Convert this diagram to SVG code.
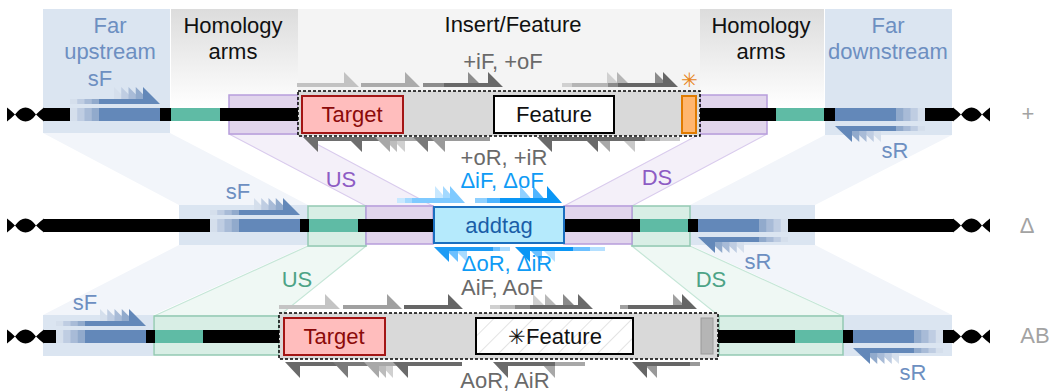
<svg xmlns="http://www.w3.org/2000/svg" width="1053" height="392" viewBox="0 0 1053 392">
<defs>
<style>
.t{font-family:"Liberation Sans",Arial,sans-serif;font-size:22px;text-anchor:middle}
.blue{fill:#6d8fc1}.gry{fill:#6a6a6a}.dl{fill:#0f9bf5}.pur{fill:#8d5cc4}.grn{fill:#4da386}.rowl{fill:#a3a3a3}
.fbox{fill:#dbe5f1}
.band-b{fill:#f2f5fa}
.band-p{fill:#f4f0f9;stroke:#d9cbed;stroke-width:1.2}
.band-g{fill:#eff8f4;stroke:#c5e6d7;stroke-width:1.2}
.pbox{fill:#e1d5ec;stroke:#b79ddb;stroke-width:1.5}
.gbox{fill:#d8eee5;stroke:#93c9b2;stroke-width:1.5}
.line{fill:#000}
.teal{fill:#5fbba5}
.cons{fill:#d9d9d9;stroke:#000;stroke-width:1.5;stroke-dasharray:3 2}
.target{fill:#ffbdbd;stroke:#a31515;stroke-width:2}
.feat{fill:#fff;stroke:#000;stroke-width:2}
.b0{fill:#d5dfec}.b1{fill:#bfcde2}.b2{fill:#a8bbd7}.b3{fill:#91aacc}.b4{fill:#6388b9}
.star{font-family:"DejaVu Sans",sans-serif;font-weight:200}
</style>
<linearGradient id="hom" x1="0" y1="0" x2="0" y2="1">
<stop offset="0" stop-color="#dcdcdc"/><stop offset="1" stop-color="#ffffff"/>
</linearGradient>
<pattern id="hatch" width="14" height="14" patternUnits="userSpaceOnUse" patternTransform="rotate(45)">
<rect width="14" height="14" fill="#fff"/><line x1="0" y1="0" x2="0" y2="14" stroke="#e3e3e3" stroke-width="2"/>
</pattern>
<path id="ends" d="M7,-7 Q11,-4 15,0 Q20,-7 25.5,-7 Q31,-7 36,0 Q40,-4 44,-7 L44,7 Q40,4 36,0 Q31,7 25.5,7 Q20,7 15,0 Q11,4 7,7 Z" fill="#000"/>
<g id="sF">
<rect class="b0" x="-90" y="0" width="90" height="13"/>
<rect class="b1" x="-82.75" y="0" width="82.75" height="13"/>
<rect class="b2" x="-75.5" y="0" width="75.5" height="13"/>
<rect class="b3" x="-68.25" y="0" width="68.25" height="13"/>
<rect class="b4" x="-61" y="0" width="61" height="13"/>
<polygon class="b0" points="-90,-9 -46,-9 -46,-21 -29,-4 -90,-4"/>
<polygon class="b1" points="-82.75,-9 -38.75,-9 -38.75,-21 -21.75,-4 -82.75,-4"/>
<polygon class="b2" points="-75.5,-9 -31.5,-9 -31.5,-21 -14.5,-4 -75.5,-4"/>
<polygon class="b3" points="-68.25,-9 -24.25,-9 -24.25,-21 -7.25,-4 -68.25,-4"/>
<polygon class="b4" points="-61,-9 -17,-9 -17,-21 0,-4 -61,-4"/>
</g>
<g id="sR">
<rect class="b0" x="0" y="-13" width="90" height="13"/>
<rect class="b1" x="0" y="-13" width="82.75" height="13"/>
<rect class="b2" x="0" y="-13" width="75.5" height="13"/>
<rect class="b3" x="0" y="-13" width="68.25" height="13"/>
<rect class="b4" x="0" y="-13" width="61" height="13"/>
<polygon class="b0" points="29,5 90,5 90,10 46,10 46,21"/>
<polygon class="b1" points="21.75,5 82.75,5 82.75,10 38.75,10 38.75,21"/>
<polygon class="b2" points="14.5,5 75.5,5 75.5,10 31.5,10 31.5,21"/>
<polygon class="b3" points="7.25,5 68.25,5 68.25,10 24.25,10 24.25,21"/>
<polygon class="b4" points="0,5 61,5 61,10 17,10 17,21"/>
</g>
</defs>

<rect width="1053" height="392" fill="#fff"/>

<g id="column-panels">
<rect class="fbox" x="43" y="9" width="127" height="124"/>
<rect x="171" y="9" width="127" height="99" fill="url(#hom)"/>
<rect x="298" y="9" width="402" height="82" fill="#f4f4f4"/>
<rect x="700" y="9" width="124" height="99" fill="url(#hom)"/>
<rect class="fbox" x="825" y="9" width="127" height="126"/>
<text class="t blue" x="110" y="33">Far</text>
<text class="t blue" x="110" y="59">upstream</text>
<text class="t" x="233" y="33" fill="#111">Homology</text>
<text class="t" x="233" y="59" fill="#111">arms</text>
<text class="t" x="513" y="32" fill="#111">Insert/Feature</text>
<text class="t" x="761" y="33" fill="#111">Homology</text>
<text class="t" x="761" y="59" fill="#111">arms</text>
<text class="t blue" x="888" y="33">Far</text>
<text class="t blue" x="888" y="59">downstream</text>
</g>

<g id="connectors">
<polygon class="band-b" points="43,133 170,133 308,205 179,205"/>
<polygon class="band-b" points="825,135 952,135 815,205 690,205"/>
<polygon class="band-b" points="179,245 308,245 153,315 43,315"/>
<polygon class="band-b" points="690,245 815,245 952,315 843,315"/>
<polygon class="band-p" points="229,134 298,134 433,206 366,206"/>
<polygon class="band-p" points="700,134 767,134 632,206 564,206"/>
<polygon class="band-g" points="308,246 366,246 279,316 154,316"/>
<polygon class="band-g" points="632,246 690,246 843,316 719,316"/>
<text class="t pur" x="341" y="187">US</text>
<text class="t pur" x="657" y="185">DS</text>
<text class="t grn" x="297" y="287">US</text>
<text class="t grn" x="711" y="287">DS</text>
</g>

<g id="row-plus">
<rect class="pbox" x="229" y="95" width="69" height="39"/>
<rect class="pbox" x="700" y="95" width="67" height="39"/>
<rect class="line" x="44" y="108" width="909" height="13"/>
<rect class="teal" x="171" y="108" width="49" height="13"/>
<rect class="teal" x="776" y="108" width="48" height="13"/>
<use href="#sF" transform="translate(160,108)"/>
<use href="#sR" transform="translate(835,121)"/>
<use href="#ends" transform="translate(0,114.5)"/>
<use href="#ends" transform="translate(946,114.5)"/>
<text class="t blue" x="100" y="86">sF</text>
<text class="t blue" x="895" y="158">sR</text>
<rect class="cons" x="298" y="91" width="402" height="45"/>
<rect class="target" x="302" y="96" width="101" height="37"/>
<text class="t" x="352" y="122" fill="#8b0a0a">Target</text>
<rect class="feat" x="494" y="96" width="120" height="37"/>
<text class="t" x="554" y="122" fill="#111">Feature</text>
<rect x="682" y="96" width="14" height="37" fill="#ffb66e" stroke="#e07b00" stroke-width="2"/>
<text class="star" x="689" y="87" font-size="20" text-anchor="middle" fill="#e8861a">✳︎</text>
<g id="plus-primers">
<polygon fill="#c2c2c2" points="297,83 344,83 344,72 359,87 297,87"/>
<polygon fill="#ababab" points="361,83 405,83 405,72 420,87 361,87"/>
<polygon fill="#8c8c8c" points="423,83 468,83 468,72 483,87 423,87"/>
<polygon fill="#686868" points="444,83 488,83 488,72 503,87 444,87"/>
<polygon fill="#d0d0d0" points="562,83 607,83 607,72 622,87 562,87"/>
<polygon fill="#b5b5b5" points="572,83 617,83 617,72 632,87 572,87"/>
<polygon fill="#8a8a8a" points="608,83 655,83 655,72 670,87 608,87"/>
<polygon fill="#666666" points="618,83 663,83 663,72 678,87 618,87"/>
<polygon fill="#6e6e6e" points="303,137 363,137 363,141 318,141 318,152"/>
<polygon fill="#6e6e6e" points="347,137 410,137 410,141 362,141 362,152"/>
<polygon fill="#d0d0d0" points="390,137 450,137 450,141 405,141 405,152"/>
<polygon fill="#bdbdbd" points="382,137 442,137 442,141 397,141 397,152"/>
<polygon fill="#a8a8a8" points="375,137 435,137 435,141 390,141 390,152"/>
<polygon fill="#7a7a7a" points="413,137 475,137 475,141 428,141 428,152"/>
<polygon fill="#9a9a9a" points="430,137 490,137 490,141 445,141 445,152"/>
<polygon fill="#c8c8c8" points="620,137 680,137 680,141 635,141 635,152"/>
<polygon fill="#a8a8a8" points="595,137 660,137 660,141 610,141 610,152"/>
<polygon fill="#6a6a6a" points="583,137 645,137 645,141 598,141 598,152"/>
<polygon fill="#6a6a6a" points="537,137 600,137 600,141 552,141 552,152"/>
</g>
<text class="t gry" x="503" y="69">+iF, +oF</text>
<text class="t gry" x="504" y="165">+oR, +iR</text>
<text class="t rowl" x="1028" y="121">+</text>
</g>

<g id="row-delta">
<rect class="fbox" x="179" y="205" width="129" height="40"/>
<rect class="fbox" x="690" y="205" width="125" height="40"/>
<rect class="gbox" x="308" y="206" width="58" height="40"/>
<rect class="gbox" x="632" y="206" width="58" height="40"/>
<rect class="pbox" x="366" y="206" width="67" height="38"/>
<rect class="pbox" x="564" y="206" width="68" height="38"/>
<rect class="line" x="44" y="219" width="909" height="13"/>
<rect class="teal" x="309" y="219" width="49" height="13"/>
<rect class="teal" x="640" y="219" width="48" height="13"/>
<use href="#sF" transform="translate(300,219)"/>
<use href="#sR" transform="translate(698,232)"/>
<use href="#ends" transform="translate(0,225.5)"/>
<use href="#ends" transform="translate(946,225.5)"/>
<text class="t blue" x="238" y="199">sF</text>
<text class="t blue" x="758" y="269">sR</text>
<rect x="434" y="207" width="130" height="36" fill="#b5eafc" stroke="#1a6fc0" stroke-width="2"/>
<text class="t" x="499" y="233" fill="#1a5ea8">addtag</text>
<g id="delta-primers">
<polygon fill="#c8e8ff" points="397,198 435,198 435,186 450,203 397,203"/>
<polygon fill="#a3d9ff" points="405,198 443,198 443,186 458,203 405,203"/>
<polygon fill="#7fcaff" points="412,198 450,198 450,186 465,203 412,203"/>
<polygon fill="#8fd0ff" points="475,198 520,198 520,186 535,203 475,203"/>
<polygon fill="#4fb5ff" points="487,198 533,198 533,186 548,203 487,203"/>
<polygon fill="#0a96f5" points="500,198 547,198 547,186 562,203 500,203"/>
<polygon fill="#a8dbff" points="452,247 510,247 510,251 467,251 467,262"/>
<polygon fill="#6cc0ff" points="443,247 500,247 500,251 458,251 458,262"/>
<polygon fill="#1e9cf5" points="434,247 493,247 493,251 449,251 449,262"/>
<polygon fill="#b5e0ff" points="540,247 605,247 605,251 555,251 555,262"/>
<polygon fill="#6cc0ff" points="527,247 590,247 590,251 542,251 542,262"/>
<polygon fill="#0a96f5" points="515,247 573,247 573,251 530,251 530,262"/>
</g>
<text class="t dl" x="502" y="188">ΔiF, ΔoF</text>
<text class="t dl" x="507" y="271">ΔoR, ΔiR</text>
<text class="t rowl" x="1027" y="233">Δ</text>
</g>

<g id="row-ab">
<rect class="fbox" x="43" y="315" width="110" height="41"/>
<rect class="fbox" x="843" y="315" width="109" height="41"/>
<rect class="gbox" x="154" y="316" width="125" height="39"/>
<rect class="gbox" x="719" y="316" width="124" height="39"/>
<rect class="line" x="44" y="330" width="909" height="13"/>
<rect class="teal" x="155" y="330" width="48" height="13"/>
<rect class="teal" x="795" y="330" width="48" height="13"/>
<use href="#sF" transform="translate(146,330)"/>
<use href="#sR" transform="translate(853,343)"/>
<use href="#ends" transform="translate(0,336.5)"/>
<use href="#ends" transform="translate(946,336.5)"/>
<text class="t blue" x="85" y="310">sF</text>
<text class="t blue" x="913" y="380">sR</text>
<rect class="cons" x="279" y="313" width="439" height="46"/>
<rect class="target" x="284" y="318" width="101" height="37"/>
<text class="t" x="334" y="344" fill="#8b0a0a">Target</text>
<rect x="476" y="318" width="157" height="36" fill="url(#hatch)" stroke="#000" stroke-width="2"/>
<text class="t" x="555" y="344" fill="#111"><tspan class="star" font-size="21">✳︎</tspan>Feature</text>
<rect x="701" y="318" width="12" height="36" fill="#b5b5b5" stroke="#9a9a9a" stroke-width="1"/>
<g id="ab-primers">
<polygon fill="#c4c4c4" points="279,305 325,305 325,294 340,309 279,309"/>
<polygon fill="#a0a0a0" points="343,305 387,305 387,294 402,309 343,309"/>
<polygon fill="#666666" points="404,305 448,305 448,294 463,309 404,309"/>
<polygon fill="#d0d0d0" points="490,305 533,305 533,294 548,309 490,309"/>
<polygon fill="#b8b8b8" points="500,305 545,305 545,294 560,309 500,309"/>
<polygon fill="#8a8a8a" points="515,305 563,305 563,294 578,309 515,309"/>
<polygon fill="#6a6a6a" points="530,305 578,305 578,294 593,309 530,309"/>
<polygon fill="#a0a0a0" points="620,305 673,305 673,294 688,309 620,309"/>
<polygon fill="#666666" points="628,305 682,305 682,294 697,309 628,309"/>
<polygon fill="#6a6a6a" points="285,362 345,362 345,366 300,366 300,378"/>
<polygon fill="#7a7a7a" points="333,362 395,362 395,366 348,366 348,378"/>
<polygon fill="#d0d0d0" points="378,362 440,362 440,366 393,366 393,378"/>
<polygon fill="#bcbcbc" points="371,362 433,362 433,366 386,366 386,378"/>
<polygon fill="#a8a8a8" points="364,362 426,362 426,366 379,366 379,378"/>
<polygon fill="#6a6a6a" points="393,362 462,362 462,366 408,366 408,378"/>
<polygon fill="#a8a8a8" points="540,362 585,362 585,366 555,366 555,378"/>
<polygon fill="#6a6a6a" points="493,362 555,362 555,366 508,366 508,378"/>
<polygon fill="#999999" points="642,362 700,362 700,366 657,366 657,378"/>
<polygon fill="#666666" points="632,362 690,362 690,366 647,366 647,378"/>
</g>
<text class="t gry" x="502" y="295">AiF, AoF</text>
<text class="t gry" x="505" y="388">AoR, AiR</text>
<text class="t rowl" x="1035" y="343">AB</text>
</g>
</svg>
